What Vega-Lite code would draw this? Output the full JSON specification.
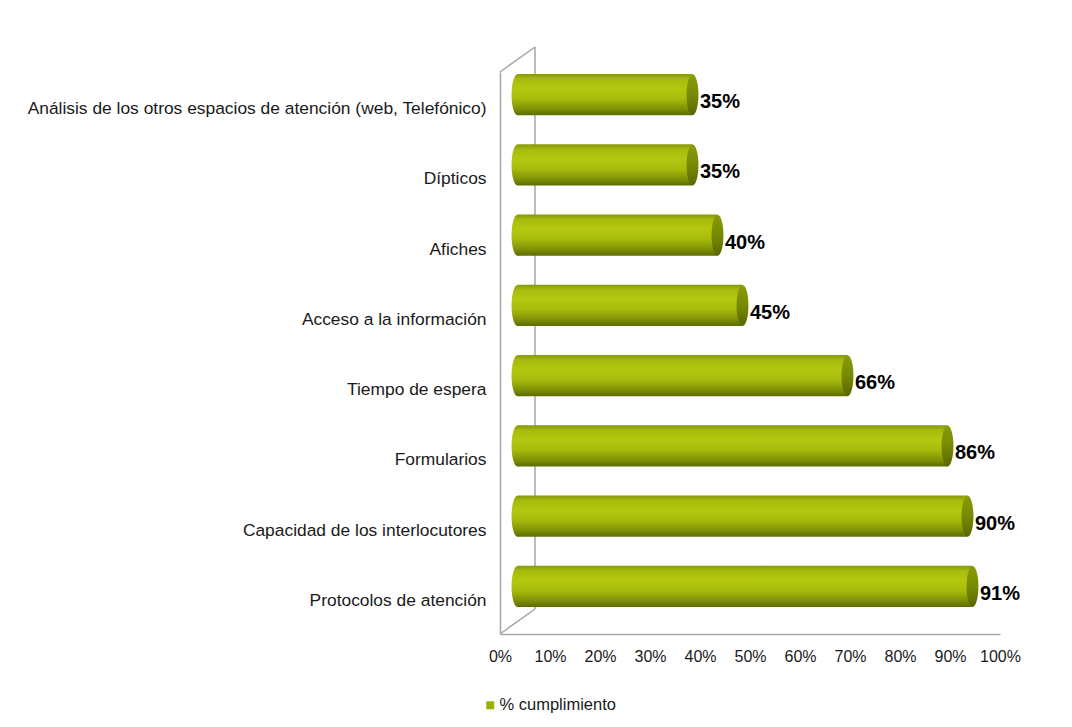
{
  "$schema": "https://vega.github.io/schema/vega-lite/v6.json",
  "width": 500,
  "height": 562,
  "autosize": {"type": "none"},
  "padding": {"left": 500, "top": 72, "right": 72, "bottom": 93},
  "background": "white",
  "config": {"view": {"stroke": null}, "font": "Liberation Sans"},
  "data": {
    "values": [
      {"item": "Análisis de los otros espacios de atención (web, Telefónico)", "pct": 35},
      {"item": "Dípticos", "pct": 35},
      {"item": "Afiches", "pct": 40},
      {"item": "Acceso a la información", "pct": 45},
      {"item": "Tiempo de espera", "pct": 66},
      {"item": "Formularios", "pct": 86},
      {"item": "Capacidad de los interlocutores", "pct": 90},
      {"item": "Protocolos de atención", "pct": 91}
    ]
  },
  "resolve": {"scale": {"y": "independent"}},
  "layer": [
    {
      "data": {"values": [{"wall": "frame"}]},
      "layer": [
        {
          "mark": {"type": "rule", "color": "#a6a6a6", "strokeWidth": 1.5, "xOffset": 35, "yOffset": -25, "y2Offset": -25},
          "encoding": {
            "x": {"datum": 0, "type": "quantitative", "scale": {"domain": [0, 100], "nice": false}},
            "y": {"datum": 0, "type": "quantitative", "scale": {"domain": [0, 1], "nice": false, "zero": false}, "axis": null},
            "y2": {"datum": 1}
          }
        },
        {
          "mark": {"type": "rule", "color": "#a6a6a6", "strokeWidth": 1.5, "x2Offset": 35, "y2Offset": -25},
          "encoding": {
            "x": {"datum": 0, "type": "quantitative"},
            "x2": {"datum": 0},
            "y": {"datum": 1, "type": "quantitative", "axis": null},
            "y2": {"datum": 1}
          }
        },
        {
          "mark": {"type": "rule", "color": "#a6a6a6", "strokeWidth": 1.5, "x2Offset": 35, "y2Offset": -25},
          "encoding": {
            "x": {"datum": 0, "type": "quantitative"},
            "x2": {"datum": 0},
            "y": {"datum": 0, "type": "quantitative", "axis": null},
            "y2": {"datum": 0}
          }
        }
      ]
    },
    {
      "encoding": {
        "y": {
          "field": "item",
          "type": "nominal",
          "sort": null,
          "scale": {"paddingInner": 0.416, "paddingOuter": 0.208},
          "axis": {
            "title": null,
            "domain": true,
            "domainColor": "#a6a6a6",
            "domainWidth": 1.5,
            "ticks": false,
            "tickSize": 0,
            "labelPadding": 14,
            "labelFontSize": 17.4,
            "labelColor": "#1a1a1a",
            "labelLimit": 600,
            "labelOffset": 2
          }
        }
      },
      "layer": [
        {
          "mark": {
            "type": "point",
            "filled": true,
            "shape": "M0,-1A0.29,1 0 1,1 0,1A0.29,1 0 1,1 0,-1Z",
            "size": 1681,
            "opacity": 1,
            "strokeWidth": 0,
            "xOffset": 17.5,
            "yOffset": -12.5,
            "color": {
              "gradient": "linear", "x1": 0, "y1": 0, "x2": 0, "y2": 1,
              "stops": [
                {"offset": 0, "color": "#85990a"},
                {"offset": 0.12, "color": "#a6bb0c"},
                {"offset": 0.35, "color": "#b4c810"},
                {"offset": 0.6, "color": "#a7bb0c"},
                {"offset": 0.85, "color": "#7f9005"},
                {"offset": 1, "color": "#5e6c00"}
              ]
            }
          },
          "encoding": {
            "x": {"datum": 0, "type": "quantitative"}
          }
        },
        {
          "mark": {
            "type": "bar",
            "xOffset": 17.5,
            "x2Offset": 17.5,
            "yOffset": -12.5,
            "y2Offset": -12.5,
            "color": {
              "gradient": "linear", "x1": 0, "y1": 0, "x2": 0, "y2": 1,
              "stops": [
                {"offset": 0, "color": "#85990a"},
                {"offset": 0.12, "color": "#a6bb0c"},
                {"offset": 0.35, "color": "#b4c810"},
                {"offset": 0.6, "color": "#a7bb0c"},
                {"offset": 0.85, "color": "#7f9005"},
                {"offset": 1, "color": "#5e6c00"}
              ]
            }
          },
          "encoding": {
            "x": {
              "field": "pct",
              "type": "quantitative",
              "scale": {"domain": [0, 100], "nice": false},
              "axis": {
                "title": null,
                "values": [0, 10, 20, 30, 40, 50, 60, 70, 80, 90, 100],
                "labelExpr": "datum.value + '%'",
                "grid": false,
                "ticks": false,
                "tickSize": 0,
                "domainColor": "#a6a6a6",
                "domainWidth": 1.5,
                "labelPadding": 14,
                "labelFontSize": 16,
                "labelColor": "#1a1a1a",
                "labelFlush": false
              }
            }
          }
        },
        {
          "mark": {
            "type": "point",
            "filled": true,
            "shape": "M0,-1A0.29,1 0 1,1 0,1A0.29,1 0 1,1 0,-1Z",
            "size": 1681,
            "opacity": 1,
            "strokeWidth": 0,
            "xOffset": 17.5,
            "yOffset": -12.5,
            "color": {
              "gradient": "linear", "x1": 0, "y1": 0, "x2": 0, "y2": 1,
              "stops": [
                {"offset": 0, "color": "#8a9c08"},
                {"offset": 0.5, "color": "#778a03"},
                {"offset": 1, "color": "#5a6700"}
              ]
            }
          },
          "encoding": {
            "x": {"field": "pct", "type": "quantitative"}
          }
        },
        {
          "mark": {
            "type": "point",
            "filled": true,
            "shape": "square",
            "size": 0,
            "strokeWidth": 0
          },
          "encoding": {
            "x": {"field": "pct", "type": "quantitative"},
            "color": {
              "datum": "% cumplimiento",
              "scale": {"range": ["#9bb000"]},
              "legend": {
                "orient": "none",
                "legendX": -18,
                "legendY": 625,
                "title": null,
                "padding": 0,
                "symbolType": "square",
                "symbolSize": 64,
                "symbolStrokeWidth": 0,
                "symbolOpacity": 1,
                "labelFontSize": 16.5,
                "labelColor": "#1a1a1a",
                "labelOffset": 1
              }
            }
          }
        },
        {
          "mark": {
            "type": "text",
            "align": "left",
            "baseline": "middle",
            "fontWeight": "bold",
            "fontSize": 20,
            "color": "#000000",
            "xOffset": 25,
            "yOffset": -5,
            "text": {"expr": "datum.pct + '%'"}
          },
          "encoding": {
            "x": {"field": "pct", "type": "quantitative"}
          }
        }
      ]
    }
  ]
}
